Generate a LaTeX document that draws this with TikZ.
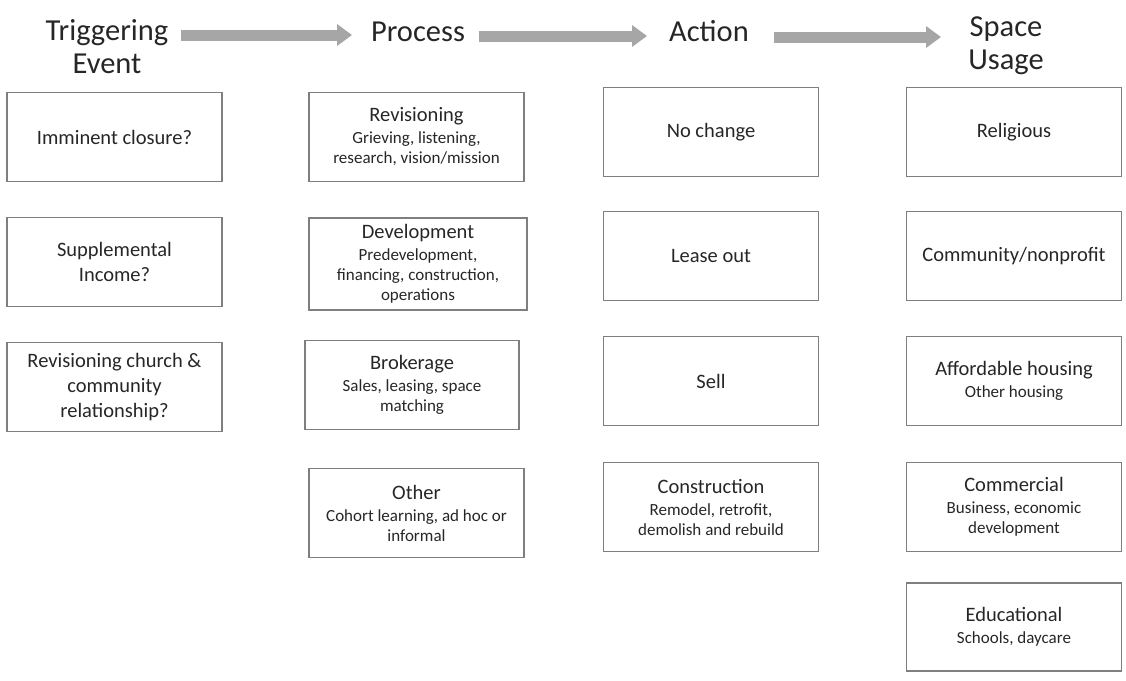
\documentclass[tikz,border=0pt]{standalone}
\usepackage{fontspec}
\setmainfont{Carlito}
\usetikzlibrary{arrows.meta}
\definecolor{boxline}{HTML}{7F7F7F}
\definecolor{txt}{HTML}{262626}
\definecolor{arrowgray}{HTML}{A6A6A6}
\newcommand\tfz{\fontsize{20.5}{25}\selectfont}
\newcommand\sfz{\fontsize{17}{20}\selectfont}
\newcommand\hfz{\fontsize{30.5}{33}\selectfont}
\begin{document}
\begin{tikzpicture}[x=1pt,y=-1pt,
  box/.style={draw=boxline, line width=1.5pt, minimum width=215pt, minimum height=89pt,
    inner sep=0pt, align=center, text=txt, font=\tfz},
  head/.style={align=center, text=txt, font=\hfz, inner sep=0pt, anchor=base},
  flow/.style={draw=arrowgray, line width=11pt, -{Triangle[length=15pt,width=21pt]}}]
\useasboundingbox (0,0) rectangle (1126,680);

% headers
\node[head] (h1) at (107,73) {Triggering\\Event};
\node[head] (h2) at (418,41) {Process};
\node[head] (h3) at (709,41) {Action};
\node[head] (h4) at (1006,69) {Space\\Usage};

\coordinate (a1s) at (181,35); \coordinate (a1e) at (352,35);
\coordinate (a2s) at (479,36); \coordinate (a2e) at (647,36);
\coordinate (a3s) at (774,37); \coordinate (a3e) at (941,37);
\draw[flow] (a1s) -- (a1e);
\draw[flow] (a2s) -- (a2e);
\draw[flow] (a3s) -- (a3e);

% column 1
\node[box] (t1) at (114.5,137) {Imminent closure?};
\node[box] (t2) at (114.5,262) {Supplemental\\Income?};
\node[box] (t3) at (114.5,387) {Revisioning church \&\\community\\relationship?};

% column 2
\node[box] (p1) at (416.5,137) {Revisioning\\[-3pt]\sfz Grieving, listening,\\[-5pt]\sfz research, vision/mission};
\node[box, minimum width=218pt, minimum height=92pt] (p2) at (418,264) {Development\\[-3pt]\sfz Predevelopment,\\[-5pt]\sfz financing, construction,\\[-5pt]\sfz operations};
\node[box, minimum width=214pt] (p3) at (412,385) {Brokerage\\[-3pt]\sfz Sales, leasing, space\\[-5pt]\sfz matching};
\node[box] (p4) at (416.5,513) {Other\\[-3pt]\sfz Cohort learning, ad hoc or\\[-5pt]\sfz informal};

% column 3
\node[box] (c1) at (711,132) {No change};
\node[box] (c2) at (711,256) {Lease out};
\node[box] (c3) at (711,381) {Sell};
\node[box] (c4) at (711,507) {Construction\\[-3pt]\sfz Remodel, retrofit,\\[-5pt]\sfz demolish and rebuild};

% column 4
\node[box] (s1) at (1014,132) {Religious};
\node[box] (s2) at (1014,256) {Community/nonprofit};
\node[box] (s3) at (1014,381) {Affordable housing\\[-3pt]\sfz Other housing};
\node[box] (s4) at (1014,507) {Commercial\\[-3pt]\sfz Business, economic\\[-5pt]\sfz development};
\node[box, minimum height=88pt] (s5) at (1014,627) {Educational\\[-3pt]\sfz Schools, daycare};
\end{tikzpicture}
\end{document}
